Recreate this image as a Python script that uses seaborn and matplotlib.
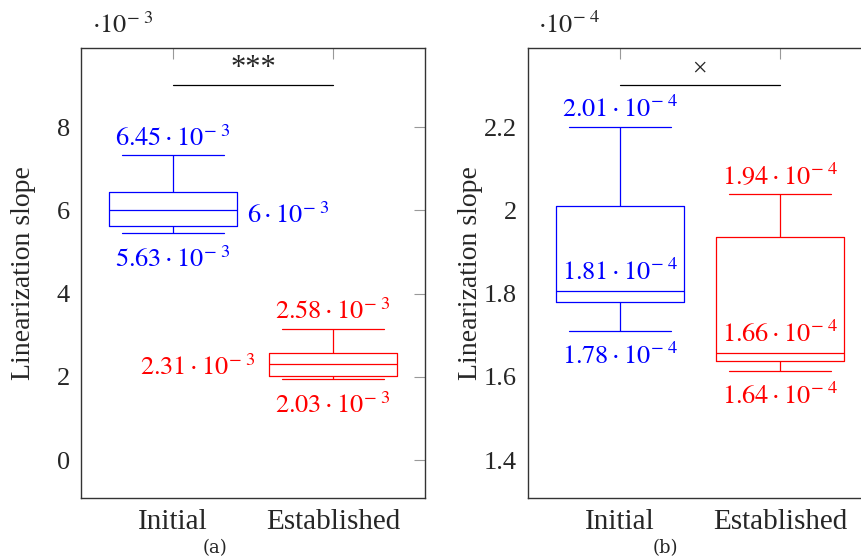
import pandas as pd
import matplotlib
matplotlib.use("Agg")
import matplotlib.pyplot as plt
import seaborn as sns

groups = ["Initial", "Established"]
colors = ["#0000ff", "#ff0000"]

# five-number summaries: low whisker, Q1, median, Q3, high whisker
# (a) in units of 1e-3
slope_a_initial = [5.45, 5.62, 6.00, 6.43, 7.32]
slope_a_established = [1.94, 2.03, 2.31, 2.58, 3.15]
# (b) in units of 1e-4
slope_b_initial = [1.71, 1.78, 1.807, 2.01, 2.20]
slope_b_established = [1.614, 1.638, 1.657, 1.937, 2.04]

# annotation texts (as printed in the figure)
labels_a = {
    "Initial": (r"$6.45\cdot 10^{-\ 3}$", r"$6\cdot 10^{-\ 3}$", r"$5.63\cdot 10^{-\ 3}$"),
    "Established": (r"$2.58\cdot 10^{-\ 3}$", r"$2.31\cdot 10^{-\ 3}$", r"$2.03\cdot 10^{-\ 3}$"),
}
labels_b = {
    "Initial": (r"$2.01\cdot 10^{-\ 4}$", r"$1.81\cdot 10^{-\ 4}$", r"$1.78\cdot 10^{-\ 4}$"),
    "Established": (r"$1.94\cdot 10^{-\ 4}$", r"$1.66\cdot 10^{-\ 4}$", r"$1.64\cdot 10^{-\ 4}$"),
}

sig_a, sig_a_y = "***", 9.0
sig_b, sig_b_y = r"$\times$", 2.30

ylim_a = (-0.91, 9.9)
ylim_b = (1.309, 2.39)
yticks_a = [0, 2, 4, 6, 8]
yticks_b = [1.4, 1.6, 1.8, 2.0, 2.2]
yticklabels_b = ["1.4", "1.6", "1.8", "2", "2.2"]

sns.set_style("white")
plt.rcParams["font.family"] = ["Liberation Serif", "DejaVu Serif"]
plt.rcParams["mathtext.fontset"] = "stix"

FS = 19


def make_df(a, b):
    return pd.DataFrame({
        "group": [groups[0]] * len(a) + [groups[1]] * len(b),
        "value": a + b,
    })


def draw(ax, df, ylim, yticks, yticklabels, labels, sig, sig_y, sig_size, sig_off, mid_side):
    sns.boxplot(data=df, x="group", y="value", hue="group", palette=colors,
                fill=False, width=0.8, whis=(0, 100), linewidth=0.9,
                capwidths=0.64, legend=False, ax=ax)
    ax.set_xlim(-0.575, 1.575)
    ax.set_ylim(*ylim)
    ax.set_yticks(yticks)
    ax.set_yticklabels(yticklabels)
    ax.set_xlabel("")
    ax.set_ylabel("Linearization slope", fontsize=20)
    ax.yaxis.set_label_coords(-45 / 344, 0.5)
    ax.tick_params(direction="in", length=8, width=0.8, color="#999999",
                   top=True, right=True, labelsize=FS, pad=8)
    ax.tick_params(axis="x", labelsize=21)
    for s in ax.spines.values():
        s.set_visible(True)
        s.set_color("#333333")
        s.set_linewidth(1.0)

    for i, g in enumerate(groups):
        vals = df.loc[df["group"] == g, "value"].tolist()
        top, mid, low = labels[g]
        c = colors[i]
        ax.annotate(top, (i, vals[4]), xytext=(0, 7), textcoords="offset points",
                    ha="center", va="baseline", color=c, fontsize=FS)
        ax.annotate(low, (i, vals[0]), xytext=(0, -24), textcoords="offset points",
                    ha="center", va="baseline", color=c, fontsize=FS)
        side = mid_side[i]
        if side == "right":
            ax.annotate(mid, (i + 0.4, vals[2]), xytext=(7, -9), textcoords="offset points",
                        ha="left", va="baseline", color=c, fontsize=FS)
        elif side == "left":
            ax.annotate(mid, (i - 0.4, vals[2]), xytext=(-10, -8), textcoords="offset points",
                        ha="right", va="baseline", color=c, fontsize=FS)
        else:
            ax.annotate(mid, (i, vals[2]), xytext=(0, 8), textcoords="offset points",
                        ha="center", va="baseline", color=c, fontsize=FS)

    ax.plot([0, 1], [sig_y, sig_y], color="black", lw=0.9)
    ax.annotate(sig, (0.5, sig_y), xytext=(0, sig_off), textcoords="offset points",
                ha="center", va="baseline", fontsize=sig_size)


fig = plt.figure(figsize=(8.61, 5.59), dpi=100)
ax_a = fig.add_axes([81 / 861, 61 / 559, 344 / 861, 450 / 559])
ax_b = fig.add_axes([528 / 861, 61 / 559, 344 / 861, 450 / 559])

draw(ax_a, make_df(slope_a_initial, slope_a_established), ylim_a, yticks_a,
     [str(t) for t in yticks_a], labels_a, sig_a, sig_a_y, 22, 7, ["right", "left"])
draw(ax_b, make_df(slope_b_initial, slope_b_established), ylim_b, yticks_b,
     yticklabels_b, labels_b, sig_b, sig_b_y, 14, 10, ["above", "above"])

fig.text(92 / 861, 1 - 33 / 559, r"$\cdot 10^{-\ 3}$", fontsize=FS, va="baseline")
fig.text(538 / 861, 1 - 33 / 559, r"$\cdot 10^{-\ 4}$", fontsize=FS, va="baseline")
fig.text(215 / 861, 1 - 553 / 559, "(a)", fontsize=13, ha="center", va="baseline",
         family="DejaVu Serif")
fig.text(665 / 861, 1 - 553 / 559, "(b)", fontsize=13, ha="center", va="baseline",
         family="DejaVu Serif")

fig.savefig("out.png", dpi=100)
